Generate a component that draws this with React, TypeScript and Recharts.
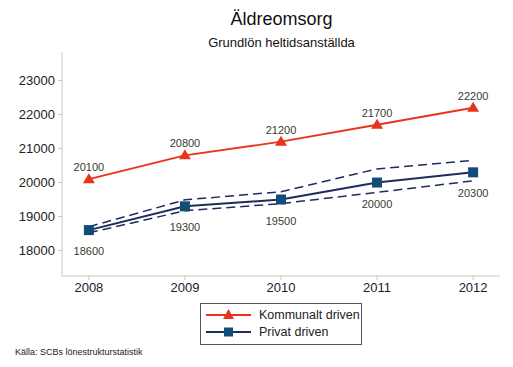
import React from 'react'
import { LineChart, Line, XAxis, YAxis, LabelList } from 'recharts'

const years = [2008, 2009, 2010, 2011, 2012]
const kommunal = [20100, 20800, 21200, 21700, 22200]
const privat = [18600, 19300, 19500, 20000, 20300]
const privatUpper = [18700, 19490, 19730, 20400, 20650]
const privatLower = [18520, 19170, 19380, 19710, 20050]
const yTicks = [18000, 19000, 20000, 21000, 22000, 23000]
const seriesNames = ['Kommunalt driven', 'Privat driven']

const RED = '#e8341c'
const NAVY = '#1c2d5e'
const SQUARE = '#124c78'
const FONT = '"Liberation Sans", Arial, sans-serif'

const data = years.map((year, i) => ({
  year,
  kommunal: kommunal[i],
  privat: privat[i],
  upper: privatUpper[i],
  lower: privatLower[i],
}))

const Triangle = (props: any) => {
  const { cx, cy } = props
  if (cx == null || cy == null) return null
  return <polygon points={`${cx},${cy - 6} ${cx - 6},${cy + 4} ${cx + 6},${cy + 4}`} fill={RED} />
}

const Square = (props: any) => {
  const { cx, cy } = props
  if (cx == null || cy == null) return null
  return <rect x={cx - 5} y={cy - 5} width={10} height={10} fill={SQUARE} />
}

const labelAbove = (props: any) => {
  const { x, y, value } = props
  return (
    <text x={x} y={y - 8} textAnchor="middle" fontSize={11} fill="#3a3a2e" fontFamily={FONT}>
      {value}
    </text>
  )
}

const labelBelow = (props: any) => {
  const { x, y, value } = props
  return (
    <text x={x} y={y + 25} textAnchor="middle" fontSize={11} fill="#3a3a2e" fontFamily={FONT}>
      {value}
    </text>
  )
}

// legend drawn as plain html so it doesn't eat into the plot area
const LegendBox = () => (
  <div
    style={{
      position: 'absolute',
      left: 200,
      top: 303,
      width: 160,
      height: 38,
      border: '1px solid #555',
      fontFamily: FONT,
      fontSize: 12.5,
      color: '#222',
      background: '#fff',
      whiteSpace: 'nowrap',
      paddingTop: 2,
    }}
  >
    {seriesNames.map((name, i) => (
      <div key={name} style={{ display: 'flex', alignItems: 'center', height: 17 }}>
        <svg width={48} height={14} style={{ marginLeft: 4, flex: 'none' }}>
          <line x1={1} y1={7} x2={46} y2={7} stroke={i === 0 ? RED : NAVY} strokeWidth={2} />
          {i === 0 ? (
            <polygon points="23.5,1 18,11 29,11" fill={RED} />
          ) : (
            <rect x={19} y={2.5} width={9} height={9} fill={SQUARE} />
          )}
        </svg>
        <span style={{ marginLeft: 6 }}>{name}</span>
      </div>
    ))}
  </div>
)

export default function App() {
  return (
    <div style={{ position: 'absolute', left: 0, top: 0, width: 513, height: 367, background: '#fff', fontFamily: FONT }}>
      <div style={{ position: 'absolute', left: 0, width: 563, top: 9, textAlign: 'center', fontSize: 18, color: '#111' }}>
        Äldreomsorg
      </div>
      <div style={{ position: 'absolute', left: 0, width: 563, top: 35, textAlign: 'center', fontSize: 13, color: '#111' }}>
        Grundlön heltidsanställda
      </div>
      <LineChart width={513} height={367} data={data} margin={{ top: 52, right: 13, bottom: 61, left: 0 }}>
        <XAxis
          dataKey="year"
          type="number"
          domain={[2007.72, 2012.28]}
          ticks={years}
          tickSize={4}
          stroke="#c8c8c0"
          tick={{ fill: '#222', fontSize: 13, fontFamily: FONT }}
          tickMargin={3}
          height={30}
        />
        <YAxis
          domain={[17250, 23840]}
          ticks={yTicks}
          width={62}
          tickSize={4}
          stroke="#c8c8c0"
          tick={{ fill: '#222', fontSize: 13, fontFamily: FONT }}
          tickMargin={3}
        />
        <Line dataKey="upper" stroke={NAVY} strokeWidth={1.5} strokeDasharray="9 5" dot={false} isAnimationActive={false} />
        <Line dataKey="lower" stroke={NAVY} strokeWidth={1.5} strokeDasharray="9 5" dot={false} isAnimationActive={false} />
        <Line dataKey="kommunal" name={seriesNames[0]} stroke={RED} strokeWidth={1.8} dot={<Triangle />} isAnimationActive={false}>
          <LabelList dataKey="kommunal" content={labelAbove} />
        </Line>
        <Line dataKey="privat" name={seriesNames[1]} stroke={NAVY} strokeWidth={2} dot={<Square />} isAnimationActive={false}>
          <LabelList dataKey="privat" content={labelBelow} />
        </Line>
      </LineChart>
      <LegendBox />
      <div style={{ position: 'absolute', left: 15, top: 347, fontSize: 9, color: '#222' }}>
        Källa: SCBs lönestrukturstatistik
      </div>
    </div>
  )
}
